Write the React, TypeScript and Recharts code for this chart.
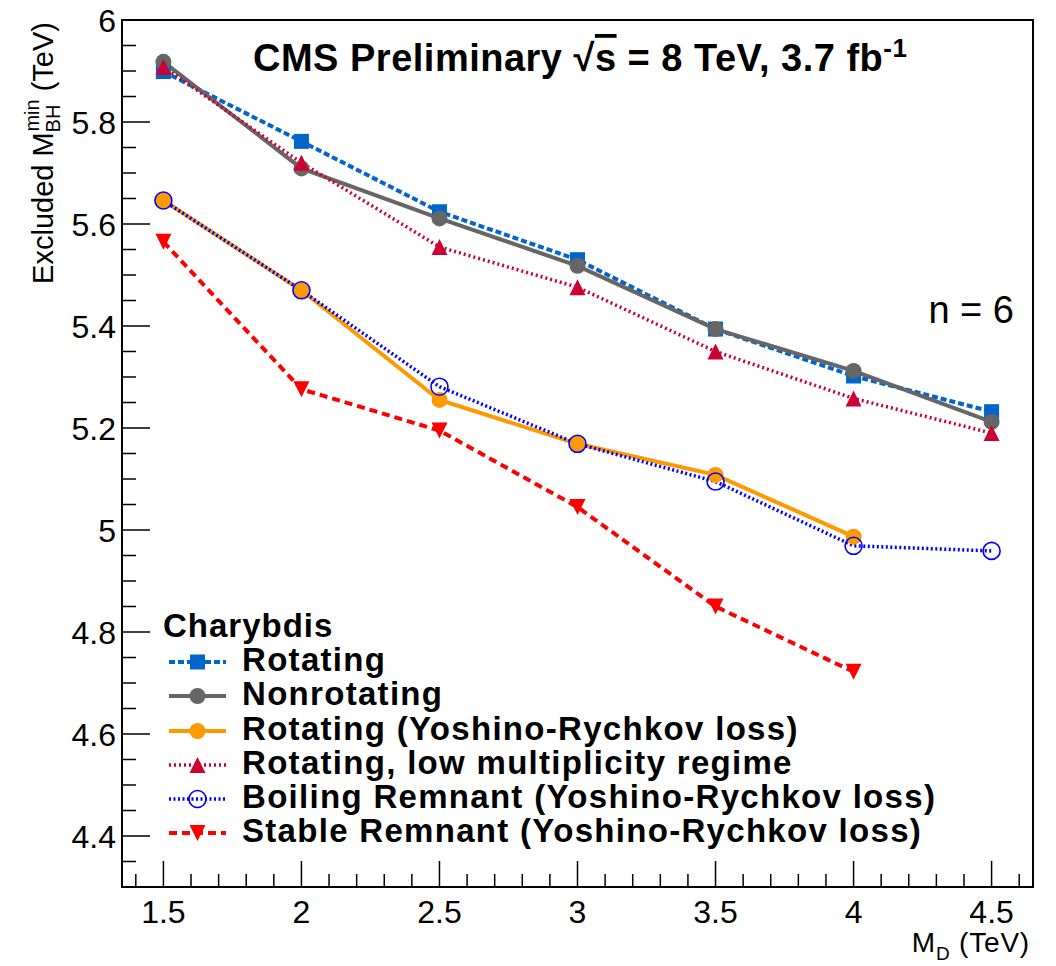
import React from 'react';
import { LineChart, Line, XAxis, YAxis, ReferenceArea } from 'recharts';

// ---- data ----
const mdValues = [1.5, 2, 2.5, 3, 3.5, 4, 4.5];
const rotating = [5.899, 5.762, 5.624, 5.53, 5.394, 5.302, 5.232];
const nonrotating = [5.918, 5.709, 5.611, 5.518, 5.394, 5.312, 5.212];
const rotatingYR = [5.646, 5.47, 5.255, 5.169, 5.108, 4.987, null];
const lowMultiplicity = [5.908, 5.72, 5.555, 5.476, 5.35, 5.258, 5.19];
const boilingRemnant = [5.646, 5.47, 5.281, 5.169, 5.095, 4.969, 4.959];
const stableRemnant = [5.565, 5.276, 5.195, 5.045, 4.85, 4.722, null];

const seriesNames = [
  'Rotating',
  'Nonrotating',
  'Rotating (Yoshino-Rychkov loss)',
  'Rotating, low multiplicity regime',
  'Boiling Remnant (Yoshino-Rychkov loss)',
  'Stable Remnant (Yoshino-Rychkov loss)',
];
const legendHeader = 'Charybdis';

const xTicks = [
  1.4, 1.5, 1.6, 1.7, 1.8, 1.9, 2, 2.1, 2.2, 2.3, 2.4, 2.5, 2.6, 2.7, 2.8, 2.9, 3,
  3.1, 3.2, 3.3, 3.4, 3.5, 3.6, 3.7, 3.8, 3.9, 4, 4.1, 4.2, 4.3, 4.4, 4.5, 4.6,
];
const xMajor = [1.5, 2, 2.5, 3, 3.5, 4, 4.5];
const yTicks = [
  4.35, 4.4, 4.45, 4.5, 4.55, 4.6, 4.65, 4.7, 4.75, 4.8, 4.85, 4.9, 4.95, 5,
  5.05, 5.1, 5.15, 5.2, 5.25, 5.3, 5.35, 5.4, 5.45, 5.5, 5.55, 5.6, 5.65, 5.7,
  5.75, 5.8, 5.85, 5.9, 5.95, 6,
];
const yMajor = [4.4, 4.6, 4.8, 5, 5.2, 5.4, 5.6, 5.8, 6];

const FONT = '"Liberation Sans", Arial, Helvetica, sans-serif';

const seriesStyle = [
  { key: 'rotating', color: '#0066cc', dash: '6 3', width: 4, shape: 'square' },
  { key: 'nonrotating', color: '#666666', dash: undefined, width: 4, shape: 'circle' },
  { key: 'rotatingYR', color: '#ff9900', dash: undefined, width: 4, shape: 'circle' },
  { key: 'lowMultiplicity', color: '#cc0033', dash: '2 3', width: 3.5, shape: 'triUp' },
  { key: 'boilingRemnant', color: '#0000ff', dash: '2 2.5', width: 3.5, shape: 'openCircle' },
  { key: 'stableRemnant', color: '#ff0000', dash: '8 5', width: 4, shape: 'triDown' },
];
const seriesValues = [rotating, nonrotating, rotatingYR, lowMultiplicity, boilingRemnant, stableRemnant];

const data = mdValues.map((md, i) => {
  const row: any = { md };
  seriesStyle.forEach((s, j) => {
    row[s.key] = seriesValues[j][i];
  });
  return row;
});

function Marker({ shape, color, cx, cy }: any) {
  const s = 8;
  switch (shape) {
    case 'square':
      return <rect x={cx - 7.5} y={cy - 7.5} width={15} height={15} fill={color} />;
    case 'circle':
      return <circle cx={cx} cy={cy} r={s} fill={color} />;
    case 'openCircle':
      return <circle cx={cx} cy={cy} r={8.5} fill="none" stroke={color} strokeWidth={1.6} />;
    case 'triUp':
      return <polygon points={`${cx - s},${cy + s} ${cx + s},${cy + s} ${cx},${cy - s}`} fill={color} />;
    case 'triDown':
      return <polygon points={`${cx - s},${cy - s} ${cx + s},${cy - s} ${cx},${cy + s}`} fill={color} />;
    default:
      return null;
  }
}

function makeDot(shape: string, color: string) {
  return (p: any) => {
    const k = `${shape}-${color}-${p.index}`;
    if (p.cx == null || p.cy == null || p.value == null || Number.isNaN(p.cy)) return <g key={k} />;
    return (
      <g key={k}>
        <Marker shape={shape} color={color} cx={p.cx} cy={p.cy} />
      </g>
    );
  };
}

function isIn(v: number, arr: number[]) {
  return arr.some((a) => Math.abs(a - v) < 1e-6);
}

// chart placed at the page origin; plot box in page coordinates
const W = 1056;
const H = 966;
const PLOT_TOP = 20;
const PLOT_BOTTOM = 887;
const PLOT_LEFT = 122;
const PLOT_RIGHT = 1033;
const Y_AXIS_W = 60;
const X_AXIS_H = 50;

function XTick(props: any) {
  const { x, payload } = props;
  const y = PLOT_BOTTOM;
  const v = payload.value;
  const major = isIn(v, xMajor);
  return (
    <g>
      <line x1={x} x2={x} y1={y} y2={y - (major ? 26 : 13)} stroke="#000" strokeWidth={1.5} />
      {major && (
        <text x={x} y={y + 36} textAnchor="middle" fontSize={32} fontFamily={FONT} fill="#000">
          {String(v)}
        </text>
      )}
    </g>
  );
}

function YTick(props: any) {
  const { y, payload } = props;
  const x = PLOT_LEFT;
  const v = payload.value;
  const major = isIn(v, yMajor);
  return (
    <g>
      <line x1={x} x2={x + (major ? 28 : 14)} y1={y} y2={y} stroke="#000" strokeWidth={1.5} />
      {major && (
        <text x={x - 6} y={y + 11.5} textAnchor="end" fontSize={32} fontFamily={FONT} fill="#000">
          {String(v)}
        </text>
      )}
    </g>
  );
}

const legendBaselines = [671, 705, 740, 774, 808, 842];

function Overlay() {
  return (
    <svg
      width={W}
      height={H}
      style={{ position: 'absolute', left: 0, top: 0, pointerEvents: 'none' }}
    >
      {/* title */}
      <text x={253} y={71} fontSize={38} fontWeight="bold" fontFamily={FONT} fill="#000" letterSpacing={0.5}>
        {'CMS Preliminary  \u221A'}
        <tspan style={{ textDecoration: 'overline' }}>s</tspan>
        {' = 8 TeV, 3.7 fb'}
        <tspan dy={-14} fontSize={26}>-1</tspan>
      </text>
      {/* n = 6 */}
      <text x={1014} y={323} textAnchor="end" fontSize={38} fontFamily={FONT} fill="#000">
        n = 6
      </text>
      {/* y title */}
      <text
        transform="translate(53,22) rotate(-90)"
        textAnchor="end"
        fontSize={29}
        fontFamily={FONT}
        fill="#000"
      >
        {'Excluded M'}
        <tspan fontSize={20} dy={7}>BH</tspan>
        <tspan fontSize={20} dx={-27} dy={-21}>min</tspan>
        <tspan dy={14}>{' (TeV)'}</tspan>
      </text>
      {/* x title */}
      <text x={1030} y={952} textAnchor="end" fontSize={28} fontFamily={FONT} fill="#000" letterSpacing={0.8}>
        M<tspan fontSize={19} dy={8}>D</tspan>
        <tspan dy={-8}>{' (TeV)'}</tspan>
      </text>
      {/* legend */}
      <text x={163} y={637} fontSize={33} fontWeight="bold" fontFamily={FONT} fill="#000" letterSpacing={1}>
        {legendHeader}
      </text>
      {seriesStyle.map((s, i) => {
        const by = legendBaselines[i];
        const ly = by - 9;
        return (
          <g key={s.key}>
            <line
              x1={169}
              x2={226}
              y1={ly}
              y2={ly}
              stroke={s.color}
              strokeWidth={s.width}
              strokeDasharray={s.dash}
            />
            <Marker shape={s.shape} color={s.color} cx={197.5} cy={ly} />
            <text x={242} y={by} fontSize={33} fontWeight="bold" fontFamily={FONT} fill="#000" letterSpacing={1.3}>
              {seriesNames[i]}
            </text>
          </g>
        );
      })}
    </svg>
  );
}

export default function App() {
  return (
    <div style={{ position: 'absolute', left: 0, top: 0, width: W, height: H, background: '#fff' }}>
      <LineChart
        width={W}
        height={H}
        data={data}
        margin={{
          top: PLOT_TOP,
          right: W - PLOT_RIGHT,
          bottom: H - PLOT_BOTTOM - X_AXIS_H,
          left: PLOT_LEFT - Y_AXIS_W,
        }}
      >
        <XAxis
          dataKey="md"
          type="number"
          domain={[1.35, 4.65]}
          allowDataOverflow
          ticks={xTicks}
          interval={0}
          tickSize={0}
          tickMargin={0}
          tickLine={false}
          axisLine={false}
          height={X_AXIS_H}
          tick={(p: any) => <XTick {...p} />}
        />
        <YAxis
          type="number"
          domain={[4.3, 6]}
          allowDataOverflow
          ticks={yTicks}
          interval={0}
          tickSize={0}
          tickMargin={0}
          tickLine={false}
          axisLine={false}
          width={Y_AXIS_W}
          tick={(p: any) => <YTick {...p} />}
        />
        <ReferenceArea
          x1={1.35}
          x2={4.65}
          y1={4.3}
          y2={6}
          fill="none"
          fillOpacity={0}
          stroke="#000"
          strokeWidth={2}
          ifOverflow="visible"
        />
        {seriesStyle.map((s, i) => (
          <Line
            key={s.key}
            dataKey={s.key}
            name={seriesNames[i]}
            type="linear"
            stroke={s.color}
            strokeWidth={s.width}
            strokeDasharray={s.dash}
            dot={makeDot(s.shape, s.color)}
            activeDot={false}
            isAnimationActive={false}
            connectNulls={false}
          />
        ))}
      </LineChart>
      <Overlay />
    </div>
  );
}
